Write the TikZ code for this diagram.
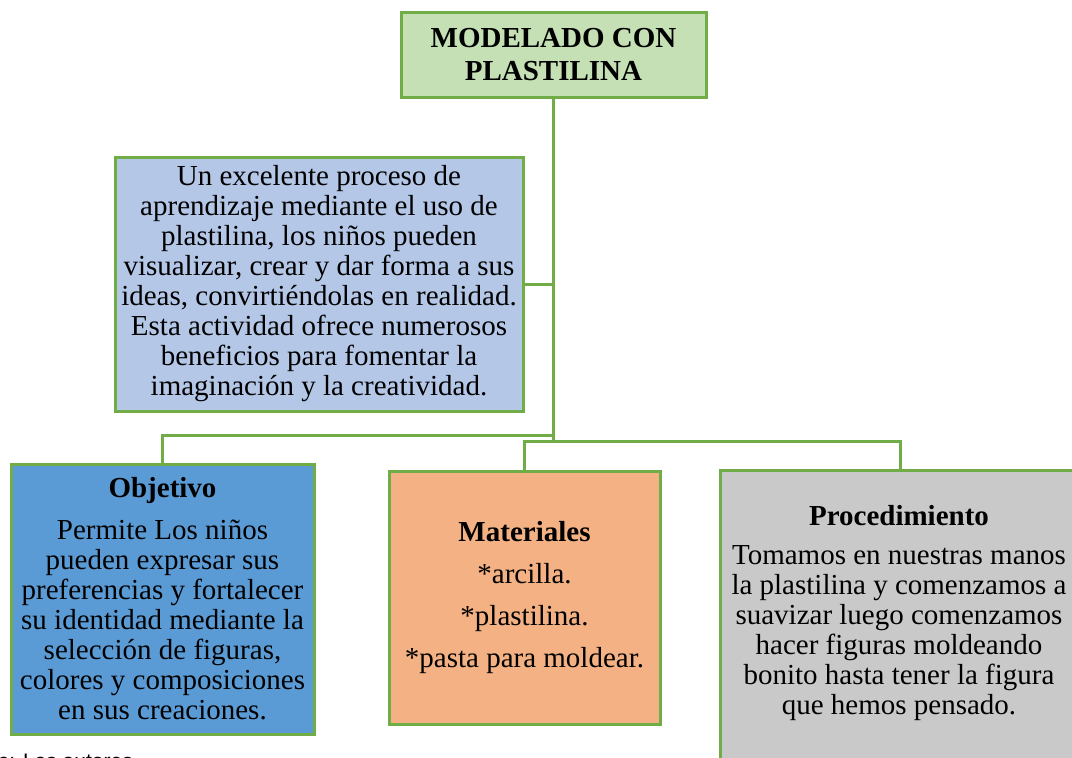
\documentclass[tikz,border=0pt]{standalone}
\usepackage{fontspec}
\setmainfont{Liberation Serif}
\newfontfamily\capfont{Liberation Sans}
\definecolor{grn}{HTML}{70AD47}
\definecolor{titlefill}{HTML}{C5E0B4}
\definecolor{descfill}{HTML}{B4C7E7}
\definecolor{objfill}{HTML}{5B9BD5}
\definecolor{matfill}{HTML}{F4B183}
\definecolor{procfill}{HTML}{C9C9C9}
\begin{document}
\begin{tikzpicture}[x=1pt,y=-1pt,
  box/.style={draw=grn, line width=3pt, rectangle, inner sep=0pt, align=center, font=\fontsize{29}{30}\selectfont},
  link/.style={draw=grn, line width=3pt},
  txt/.style={inner sep=0pt, align=center, font=\fontsize{29}{30}\selectfont}]
\useasboundingbox (0,0) rectangle (1072,758);

\node[box, fill=titlefill, minimum width=305pt, minimum height=85pt,
      font=\bfseries\fontsize{29}{33}\selectfont] (title) at (553.5,54.5) {MODELADO CON\\PLASTILINA};

\node[box, fill=descfill, minimum width=408pt, minimum height=254pt] (desc) at (319,284)
  {Un excelente proceso de\\aprendizaje mediante el uso de\\plastilina, los niños pueden\\visualizar, crear y dar forma a sus\\ideas, convirtiéndolas en realidad.\\Esta actividad ofrece numerosos\\beneficios para fomentar la\\imaginación y la creatividad.};

\node[box, fill=objfill, minimum width=303pt, minimum height=270pt] (obj) at (162.5,599)
  {{\bfseries Objetivo}\\[12pt]Permite Los niños\\pueden expresar sus\\preferencias y fortalecer\\su identidad mediante la\\selección de figuras,\\colores y composiciones\\en sus creaciones.};

\node[box, fill=matfill, minimum width=271pt, minimum height=253pt] (mat) at (524.5,597.5)
  {{\bfseries Materiales}\\[12pt]*arcilla.\\[12pt]*plastilina.\\[12pt]*pasta para moldear.};

\node[box, fill=procfill, minimum width=360pt, minimum height=300pt] (procbox) at (900,620) {};
\node[txt] (proctext) at (899,613)
  {{\bfseries Procedimiento}\\[9pt]Tomamos en nuestras manos\\la plastilina y comenzamos a\\suavizar luego comenzamos\\hacer figuras moldeando\\bonito hasta tener la figura\\que hemos pensado.};

\coordinate (ja) at (553.5,435);
\coordinate (jb) at (553.5,441);
\draw[link] (title.south) -- (jb);
\draw[link] (desc.east) -- (desc.east -| title.south);
\draw[link] (ja) -| (obj.north);
\draw[link] (jb) -| (mat.north);
\draw[link] (jb) -| (procbox.north);

\node[font=\capfont\fontsize{21}{24}\selectfont, anchor=base east, inner sep=0pt] (src) at (133,768) {Fuente: Los autores};
\end{tikzpicture}
\end{document}
